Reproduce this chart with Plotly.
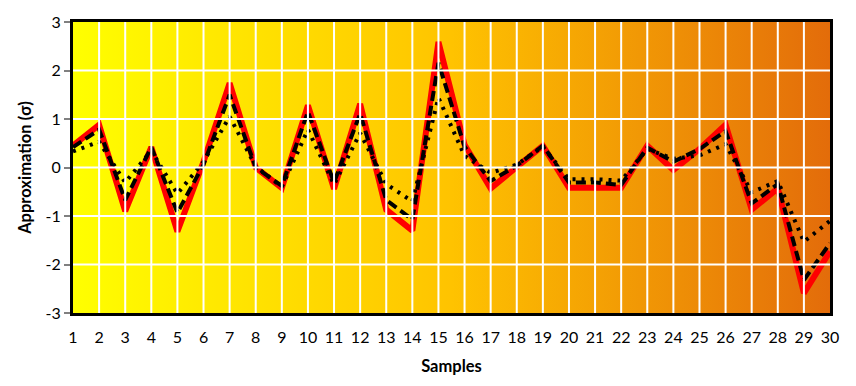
import plotly.graph_objects as go

samples = list(range(1, 31))

# Series values (in units of sigma)
series_solid = [0.45, 0.88, -0.90, 0.42, -1.32, 0.12, 1.74, 0.00, -0.42, 1.28,
                -0.44, 1.31, -0.87, -1.30, 2.59, 0.47, -0.43, 0.00, 0.45, -0.42,
                -0.42, -0.42, 0.45, -0.05, 0.38, 0.88, -0.87, -0.43, -2.59, -1.73]
series_dashed = [0.42, 0.78, -0.67, 0.42, -0.93, 0.06, 1.50, 0.00, -0.38, 1.15,
                 -0.31, 1.11, -0.67, -1.07, 2.16, 0.43, -0.28, 0.04, 0.45, -0.31,
                 -0.31, -0.36, 0.41, 0.12, 0.38, 0.75, -0.74, -0.34, -2.32, -1.56]
series_dotted = [0.33, 0.53, -0.31, 0.35, -0.54, 0.12, 1.05, 0.02, -0.40, 0.78,
                 -0.35, 0.71, -0.34, -0.70, 1.44, 0.24, -0.11, 0.06, 0.43, -0.24,
                 -0.24, -0.27, 0.38, 0.18, 0.25, 0.48, -0.51, -0.28, -1.53, -1.10]

y_ticks = [-3, -2, -1, 0, 1, 2, 3]
y_labels = [str(v) for v in y_ticks]

x_range = [1, 30]
y_range = [-3, 3]

fig = go.Figure()

# Gradient-filled plot background (yellow -> orange)
fig.add_trace(go.Scatter(
    x=[x_range[0], x_range[1], x_range[1], x_range[0], x_range[0]],
    y=[y_range[0], y_range[0], y_range[1], y_range[1], y_range[0]],
    mode="lines", line=dict(width=0), fill="toself",
    fillgradient=dict(type="horizontal",
                      colorscale=[[0, "#FFFF00"], [0.5, "#FFC300"], [1, "#E36C0A"]]),
    hoverinfo="skip", showlegend=False,
))

# White grid drawn above the gradient
for xv in samples[1:-1]:
    fig.add_shape(type="line", x0=xv, x1=xv, y0=y_range[0], y1=y_range[1],
                  line=dict(color="white", width=2), layer="above")
for yv in y_ticks[1:-1]:
    fig.add_shape(type="line", x0=x_range[0], x1=x_range[1], y0=yv, y1=yv,
                  line=dict(color="white", width=2), layer="above")

fig.add_trace(go.Scatter(x=samples, y=series_solid, mode="lines",
                         line=dict(color="#FF0000", width=6), showlegend=False))
fig.add_trace(go.Scatter(x=samples, y=series_dashed, mode="lines",
                         line=dict(color="black", width=4, dash="10px,5px"),
                         showlegend=False))
fig.add_trace(go.Scatter(x=samples, y=series_dotted, mode="lines",
                         line=dict(color="black", width=4, dash="3px,6px"),
                         showlegend=False))

font_family = "Lato, 'Open Sans', sans-serif"

fig.update_layout(
    width=856, height=386,
    margin=dict(l=73, r=26, t=15, b=68),
    paper_bgcolor="white", plot_bgcolor="white",
    font=dict(family=font_family, color="black", size=16),
    xaxis=dict(
        range=x_range, tickmode="array", tickvals=samples,
        ticktext=[str(s) for s in samples],
        showgrid=False, zeroline=False,
        showline=True, linecolor="black", linewidth=3, mirror=True,
        ticks="", ticklabelstandoff=8,
        title=dict(text="<b>Samples</b>", font=dict(size=16.5), standoff=16),
    ),
    yaxis=dict(
        range=y_range, tickmode="array", tickvals=y_ticks, ticktext=y_labels,
        showgrid=False, zeroline=False,
        showline=True, linecolor="black", linewidth=3, mirror=True,
        ticks="outside", ticklen=6, tickcolor="#808080", tickwidth=1.5,
        title=dict(text="<b>Approximation (σ)</b>", font=dict(size=16.5), standoff=10),
    ),
)

fig.write_html("out.html")
